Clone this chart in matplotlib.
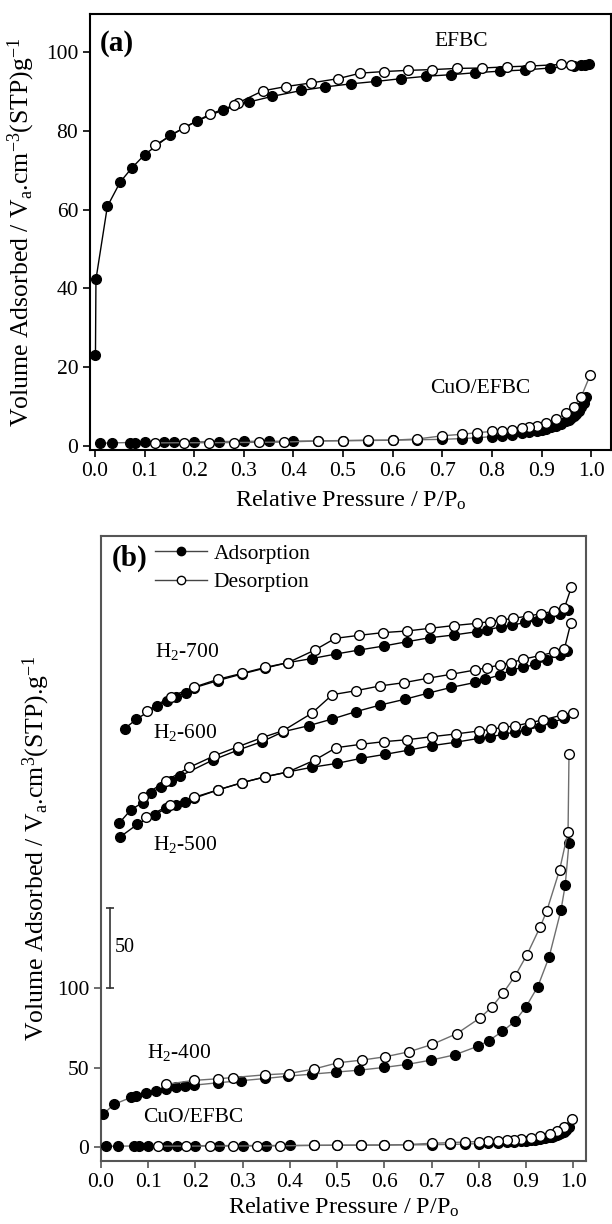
import numpy as np
import matplotlib
matplotlib.use('Agg')
import matplotlib.pyplot as plt
from matplotlib.lines import Line2D

plt.rcParams['font.family'] = ['Liberation Serif', 'DejaVu Serif']
plt.rcParams['mathtext.fontset'] = 'custom'
plt.rcParams['mathtext.rm'] = 'Liberation Serif'
plt.rcParams['mathtext.it'] = 'Liberation Serif:italic'
plt.rcParams['mathtext.bf'] = 'Liberation Serif:bold'
plt.rcParams['font.size'] = 15

# ---- data: panel (a) ----
efbc_ads_x = [0.001, 0.002, 0.025, 0.051, 0.074, 0.10, 0.151, 0.206, 0.259, 0.311, 0.357, 0.416, 0.464,
              0.517, 0.567, 0.617, 0.667, 0.717, 0.766, 0.817, 0.866, 0.917, 0.966, 0.98, 0.988, 0.995]
efbc_ads_y = [23.0, 42.3, 60.8, 67.0, 70.5, 73.9, 78.8, 82.5, 85.3, 87.3, 88.7, 90.2, 91.1,
              91.9, 92.5, 93.2, 93.8, 94.2, 94.7, 95.1, 95.4, 95.9, 96.4, 96.6, 96.7, 96.8]
efbc_des_x = [0.96, 0.94, 0.876, 0.831, 0.78, 0.73, 0.68, 0.63, 0.582, 0.535, 0.49, 0.435, 0.385,
              0.338, 0.289, 0.281, 0.232, 0.18, 0.122]
efbc_des_y = [96.7, 96.8, 96.4, 96.2, 95.9, 95.8, 95.5, 95.3, 95.0, 94.6, 93.2, 92.1, 91.2,
              90.1, 87.1, 86.5, 84.2, 80.8, 76.4]

cuo_ads_x = [0.01, 0.035, 0.07, 0.08, 0.1, 0.14, 0.16, 0.2, 0.25, 0.3, 0.35, 0.4, 0.45, 0.5, 0.55,
             0.6, 0.65, 0.7, 0.74, 0.77, 0.8, 0.82, 0.84, 0.86, 0.875, 0.89, 0.9, 0.91, 0.92, 0.93,
             0.94, 0.95, 0.955, 0.96, 0.965, 0.97, 0.975, 0.98, 0.985, 0.99]
cuo_ads_y = [0.7, 0.8, 0.9, 0.9, 1.0, 1.0, 1.05, 1.1, 1.15, 1.2, 1.2, 1.25, 1.3, 1.35, 1.4,
             1.5, 1.6, 1.7, 1.9, 2.1, 2.4, 2.6, 2.9, 3.2, 3.5, 3.8, 4.1, 4.4, 4.8, 5.2,
             5.7, 6.3, 6.7, 7.1, 7.6, 8.2, 8.9, 9.8, 10.9, 12.5]
cuo_des_x = [0.998, 0.98, 0.965, 0.95, 0.93, 0.91, 0.89, 0.875, 0.86, 0.84, 0.82, 0.8, 0.77, 0.74,
             0.7, 0.65, 0.6, 0.55, 0.5, 0.45, 0.38, 0.33, 0.28, 0.23, 0.18, 0.12]
cuo_des_y = [18.0, 12.5, 10.0, 8.3, 6.9, 5.8, 5.1, 4.8, 4.5, 4.1, 3.8, 3.7, 3.4, 3.0,
             2.6, 1.8, 1.5, 1.5, 1.4, 1.3, 1.0, 0.95, 0.9, 0.85, 0.85, 0.8]

# ---- data: panel (b), curves stacked with offsets as in the figure ----
h400_ads_x = [0.005, 0.027, 0.063, 0.075, 0.096, 0.117, 0.138, 0.158, 0.177, 0.197, 0.247, 0.297, 0.348,
              0.397, 0.446, 0.498, 0.547, 0.599, 0.648, 0.699, 0.749, 0.799, 0.821, 0.85, 0.876, 0.9,
              0.925, 0.949, 0.974, 0.983, 0.991]
h400_ads_y = [20.9, 26.9, 31.3, 32.4, 34.0, 35.5, 36.5, 37.6, 38.4, 39.0, 40.5, 41.8, 43.2,
              44.7, 45.9, 47.2, 48.4, 50.1, 52.0, 54.7, 58.0, 63.5, 66.8, 72.7, 78.9, 88.1,
              100.8, 119.4, 148.6, 164.3, 190.9]
h400_des_x = [0.991, 0.989, 0.971, 0.944, 0.93, 0.902, 0.877, 0.852, 0.828, 0.803, 0.753, 0.701, 0.652,
              0.602, 0.552, 0.501, 0.451, 0.398, 0.348, 0.28, 0.247, 0.197, 0.137]
h400_des_y = [246.4, 197.8, 173.7, 148.2, 138.2, 120.7, 107.5, 96.9, 88.1, 81.2, 71.2, 64.5, 59.9,
              56.8, 54.7, 53.0, 49.1, 46.3, 45.5, 43.8, 43.0, 42.0, 39.5]

h500_ads_x = [0.041, 0.077, 0.114, 0.138, 0.158, 0.177, 0.197, 0.247, 0.299, 0.348, 0.396, 0.446, 0.5,
              0.55, 0.601, 0.652, 0.701, 0.751, 0.801, 0.823, 0.852, 0.877, 0.9, 0.929, 0.954, 0.981]
h500_ads_y = [194.6, 202.4, 208.4, 212.4, 214.5, 216.6, 218.7, 223.9, 228.5, 232.2, 235.2, 238.1, 240.6,
              243.7, 246.2, 248.9, 251.7, 253.8, 256.3, 256.9, 259.0, 260.0, 261.5, 263.6, 266.1, 268.8]
h500_des_x = [0.999, 0.977, 0.935, 0.909, 0.877, 0.852, 0.826, 0.801, 0.751, 0.701, 0.649, 0.6, 0.55,
              0.498, 0.453, 0.396, 0.348, 0.299, 0.247, 0.197, 0.146, 0.096]
h500_des_y = [272.3, 270.9, 267.7, 266.1, 264.0, 263.2, 261.9, 260.9, 259.0, 257.3, 255.4, 254.2, 252.5,
              250.4, 242.7, 235.2, 232.2, 228.5, 223.9, 219.3, 214.5, 206.8]

h600_ads_x = [0.038, 0.063, 0.088, 0.106, 0.127, 0.148, 0.168, 0.237, 0.29, 0.341, 0.386, 0.44, 0.49,
              0.54, 0.591, 0.643, 0.692, 0.742, 0.793, 0.813, 0.844, 0.869, 0.894, 0.92, 0.944, 0.971, 0.987]
h600_ads_y = [203.0, 211.4, 216.0, 221.8, 226.0, 229.7, 232.7, 242.7, 248.9, 254.2, 260.4, 264.2, 268.4,
              273.0, 277.1, 280.7, 284.5, 288.2, 291.3, 293.2, 295.9, 299.1, 300.7, 302.6, 305.3, 308.5, 311.2]
h600_des_x = [0.995, 0.981, 0.959, 0.929, 0.894, 0.869, 0.844, 0.818, 0.793, 0.742, 0.692, 0.641, 0.591,
              0.54, 0.49, 0.446, 0.386, 0.341, 0.29, 0.239, 0.187, 0.138, 0.088]
h600_des_y = [328.7, 312.0, 310.1, 308.1, 305.8, 303.7, 302.2, 300.5, 299.1, 296.4, 293.9, 291.1, 289.1,
              286.1, 283.6, 271.9, 261.1, 256.7, 251.0, 245.2, 238.1, 229.7, 219.7]

h700_ads_x = [0.05, 0.075, 0.119, 0.139, 0.158, 0.179, 0.196, 0.247, 0.299, 0.348, 0.396, 0.446, 0.498,
              0.547, 0.599, 0.648, 0.697, 0.747, 0.797, 0.818, 0.847, 0.871, 0.898, 0.923, 0.948, 0.971, 0.989]
h700_ads_y = [262.3, 268.2, 276.5, 279.4, 282.4, 284.9, 287.8, 292.4, 296.6, 300.3, 303.7, 306.2, 309.1,
              311.6, 314.1, 316.8, 319.3, 321.0, 323.1, 324.1, 326.2, 327.1, 328.9, 329.8, 331.4, 334.2, 336.7]
h700_des_x = [0.996, 0.981, 0.959, 0.931, 0.904, 0.873, 0.848, 0.823, 0.796, 0.747, 0.697, 0.648, 0.598,
              0.547, 0.496, 0.453, 0.396, 0.348, 0.299, 0.247, 0.196, 0.148, 0.098]
h700_des_y = [350.9, 337.7, 336.0, 334.2, 332.9, 331.4, 330.4, 329.4, 328.3, 326.9, 325.2, 323.5, 322.5,
              320.8, 318.9, 311.6, 303.7, 300.7, 297.0, 293.2, 288.2, 282.4, 273.6]

x_ticks = [0.0, 0.1, 0.2, 0.3, 0.4, 0.5, 0.6, 0.7, 0.8, 0.9, 1.0]
ya_ticks = [0, 20, 40, 60, 80, 100]
yb_ticks = [0, 50, 100]

GRAY = '#6e6e6e'
MS = 7
LBL = 17.5
TXT = 15.5


def iso(ax, xa, ya, xd, yd, lc):
    ax.plot(xa, ya, '-o', color=lc, lw=1.0, ms=MS, mfc='black', mec='black', mew=1.0, zorder=3)
    ax.plot(xd, yd, '-o', color=lc, lw=1.0, ms=MS, mfc='white', mec='black', mew=1.0, zorder=4)


fig = plt.figure(figsize=(6.12, 12.24), dpi=100)

# ---- panel (a) ----
ax1 = fig.add_axes([90 / 612, 1 - 450 / 1224, 521 / 612, 436 / 1224])
iso(ax1, efbc_ads_x, efbc_ads_y, efbc_des_x, efbc_des_y, 'black')
iso(ax1, cuo_ads_x, cuo_ads_y, cuo_des_x, cuo_des_y, GRAY)
ax1.set_xlim(-0.01, 1.04)
ax1.set_ylim(-1.0, 109.6)
ax1.set_xticks(x_ticks)
ax1.set_xticklabels(['%.1f' % v for v in x_ticks])
ax1.set_yticks(ya_ticks)
ax1.tick_params(direction='out', length=5, width=1.2, labelsize=15.5)
for s in ax1.spines.values():
    s.set_linewidth(1.5)
ax1.set_xlabel('Relative Pressure / P/P$_\\mathregular{o}$', fontsize=LBL)
ax1.xaxis.set_label_coords(0.5, -0.088)
ax1.set_ylabel('Volume Adsorbed / V$_\\mathregular{a}$.cm$^\\mathregular{-3}$(STP)g$^\\mathregular{-1}$', fontsize=18.5)
ax1.yaxis.set_label_coords(-0.102, 0.5)
ax1.text(0.01, 102, '(a)', fontsize=21, fontweight='bold', va='center', ha='left')
ax1.text(0.738, 102.5, 'EFBC', fontsize=TXT, va='center', ha='center')
ax1.text(0.776, 14.7, 'CuO/EFBC', fontsize=TXT, va='center', ha='center')

# ---- panel (b) ----
ax2 = fig.add_axes([101 / 612, 1 - 1161 / 1224, 485 / 612, 625 / 1224])
iso(ax2, cuo_ads_x, cuo_ads_y, cuo_des_x, cuo_des_y, GRAY)
iso(ax2, h400_ads_x, h400_ads_y, h400_des_x, h400_des_y, GRAY)
iso(ax2, h500_ads_x, h500_ads_y, h500_des_x, h500_des_y, 'black')
iso(ax2, h600_ads_x, h600_ads_y, h600_des_x, h600_des_y, 'black')
iso(ax2, h700_ads_x, h700_ads_y, h700_des_x, h700_des_y, 'black')
ax2.set_xlim(0.0, 1.027)
ax2.set_ylim(-8.5, 383)
ax2.set_xticks(x_ticks)
ax2.set_xticklabels(['%.1f' % v for v in x_ticks])
ax2.set_yticks(yb_ticks)
ax2.tick_params(direction='out', length=5, width=1.2, color='#555555', labelsize=15.5)
for s in ax2.spines.values():
    s.set_linewidth(1.5)
    s.set_color('#555555')
ax2.set_xlabel('Relative Pressure / P/P$_\\mathregular{o}$', fontsize=LBL)
ax2.xaxis.set_label_coords(0.5, -0.056)
ax2.set_ylabel('Volume Adsorbed / V$_\\mathregular{a}$.cm$^\\mathregular{3}$(STP).g$^\\mathregular{-1}$', fontsize=18.5)
ax2.yaxis.set_label_coords(-0.1, 0.5)

ax2.text(0.022, 369, '(b)', fontsize=21, fontweight='bold', va='center', ha='left')
ax2.text(0.115, 310.5, 'H$_\\mathregular{2}$-700', fontsize=TXT, va='center', ha='left')
ax2.text(0.111, 259.7, 'H$_\\mathregular{2}$-600', fontsize=TXT, va='center', ha='left')
ax2.text(0.111, 189.5, 'H$_\\mathregular{2}$-500', fontsize=TXT, va='center', ha='left')
ax2.text(0.098, 59.2, 'H$_\\mathregular{2}$-400', fontsize=TXT, va='center', ha='left')
ax2.text(0.09, 18.5, 'CuO/EFBC', fontsize=TXT, va='center', ha='left')

# scale bar (50 units)
ax2.plot([0.018, 0.018], [100, 150], color='#333333', lw=1.2, marker='_', ms=6, mew=1.2)
ax2.text(0.03, 125, '50', va='center', ha='left', fontsize=14.5)

handles = [Line2D([], [], color='#444444', lw=1.0, marker='o', ms=6, mfc='black', mec='black'),
           Line2D([], [], color='#444444', lw=1.0, marker='o', ms=6, mfc='white', mec='black')]
ax2.legend(handles, ['Adsorption', 'Desorption'], loc='upper left', bbox_to_anchor=(0.112, 0.988),
           frameon=False, handlelength=2.4, handletextpad=0.3, labelspacing=0.4, borderpad=0,
           borderaxespad=0, fontsize=15.5)

fig.savefig('out.png', dpi=100)
